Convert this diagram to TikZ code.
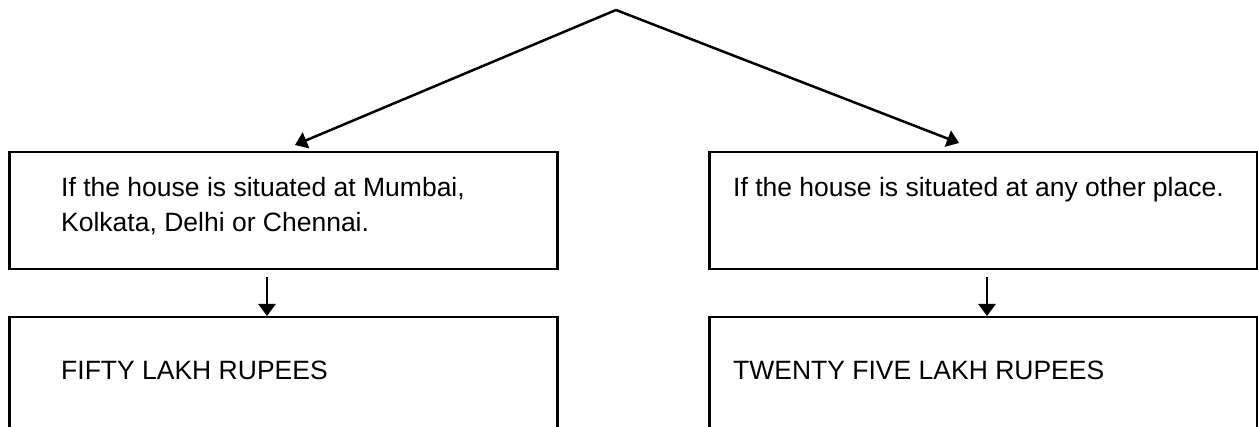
\documentclass[tikz,border=0pt]{standalone}
\usepackage{fontspec}
\setmainfont{Liberation Sans}
\usetikzlibrary{arrows.meta}
\tikzset{
  box/.style={draw=black, line width=2.5pt, minimum width=548pt, inner sep=0pt, anchor=north west},
  txt/.style={inner sep=0pt, anchor=base west, font=\fontsize{26.5}{35}\selectfont},
  arr/.style={line width=2.5pt, -{Triangle[length=12pt,width=17pt]}},
}
\begin{document}
\begin{tikzpicture}[x=1pt,y=-1pt]
\useasboundingbox (0,0) rectangle (1258,427);
\clip (0,0) rectangle (1258,427);
\coordinate (apex) at (616,10);
\node[box, minimum height=117pt] (lbox) at (8,151) {};
\node[box, minimum height=117pt] (rbox) at (708,151) {};
\node[box, minimum height=130pt] (lbot) at (8,316) {};
\node[box, minimum height=130pt] (rbot) at (708,316) {};
\coordinate (ltip) at (295,145);
\coordinate (rtip) at (959,143);
\draw[arr] (apex) -- (ltip);
\draw[arr] (apex) -- (rtip);
\coordinate (ls) at (267,277);
\coordinate (rs) at (987,277);
\draw[arr] (ls) -- (lbot.north -| ls);
\draw[arr] (rs) -- (rbot.north -| rs);
\node[txt] (t1) at (61,197) {If the house is situated at Mumbai,};
\node[txt] (t2) at (61,232) {Kolkata, Delhi or Chennai.};
\node[txt] (t3) at (733,197) {If the house is situated at any other place.};
\node[txt] (t4) at (61,380) {FIFTY LAKH RUPEES};
\node[txt] (t5) at (733,380) {TWENTY FIVE LAKH RUPEES};
\end{tikzpicture}
\end{document}
